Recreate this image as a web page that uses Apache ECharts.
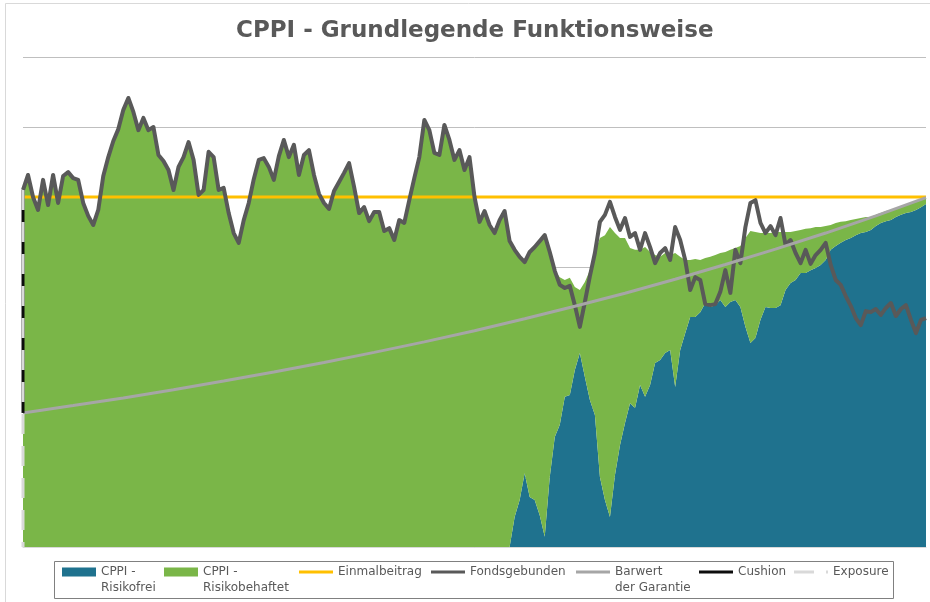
<!DOCTYPE html>
<html><head><meta charset="utf-8">
<script src="https://cdn.jsdelivr.net/npm/echarts@6/dist/echarts.min.js"></script>
<style>html,body{margin:0;padding:0;background:#fff}#c{width:930px;height:602px}</style>
</head><body><div id="c"></div>
<script>
// ---- data ----
const N = 181;
const categories = Array.from({length: N}, (_, i) => i);

const fondsgebunden = [
102.0,106.3,100.0,96.3,104.9,97.7,106.3,98.3,106.0,107.1,
105.4,104.9,98.3,94.6,92.0,96.3,106.0,111.4,116.0,119.4,
124.9,128.3,124.3,119.1,122.6,119.1,120.0,112.0,110.3,107.7,
102.0,108.6,111.4,115.7,110.6,100.6,102.0,112.9,111.4,102.0,
102.6,95.4,89.7,86.9,93.4,98.3,105.1,110.6,111.1,108.6,
104.9,111.7,116.3,111.4,114.9,106.3,112.0,113.4,106.3,100.9,
98.3,96.6,101.7,104.3,106.9,109.7,102.9,95.4,97.1,93.1,
95.7,95.7,90.3,91.1,87.7,93.4,92.6,99.1,105.4,111.4,
122.0,119.1,112.6,112.0,120.6,116.3,110.6,113.4,107.7,111.4,
100.0,92.9,96.0,92.0,89.7,93.4,96.0,87.4,84.9,82.9,
81.4,84.3,85.7,87.4,89.1,84.3,78.9,74.9,74.0,74.6,
69.1,62.9,70.0,77.4,84.0,92.9,94.9,98.6,94.3,90.6,
94.0,88.6,89.7,84.9,89.7,85.7,81.1,84.0,85.4,82.0,
91.4,87.7,82.0,73.4,77.1,76.3,69.4,69.1,69.4,72.9,
79.1,72.6,84.9,81.1,91.4,98.3,99.1,92.6,89.7,91.7,
89.1,94.0,86.3,87.7,84.0,81.1,84.9,80.9,83.4,84.9,
86.9,80.6,76.3,74.9,71.7,68.9,65.4,63.4,67.4,67.1,
68.0,66.3,68.3,69.7,66.0,68.0,69.1,64.9,61.1,64.9,
65.4];

const risikofrei = [
0,0,0,0,0,0,0,0,0,0,
0,0,0,0,0,0,0,0,0,0,
0,0,0,0,0,0,0,0,0,0,
0,0,0,0,0,0,0,0,0,0,
0,0,0,0,0,0,0,0,0,0,
0,0,0,0,0,0,0,0,0,0,
0,0,0,0,0,0,0,0,0,0,
0,0,0,0,0,0,0,0,0,0,
0,0,0,0,0,0,0,0,0,0,
0,0,0,0,0,0,0,0,8.6,13.4,
21.1,14.3,13.4,9.1,2.9,20.0,31.4,34.9,42.9,43.4,
50.6,55.4,48.6,42.0,37.7,20.0,13.4,8.6,20.6,29.1,
35.4,41.1,39.7,46.3,42.9,46.3,52.6,53.4,55.4,56.3,
45.7,56.3,61.1,65.7,65.7,67.1,69.7,68.6,69.1,70.6,
68.6,70.0,70.6,68.6,62.9,58.3,59.7,64.9,68.6,68.3,
68.3,69.1,73.4,75.4,76.3,78.3,78.3,79.1,79.7,80.6,
82.0,84.9,86.0,86.9,87.7,88.3,89.1,89.7,90.0,90.6,
91.7,92.6,93.1,93.4,94.3,94.9,95.4,95.7,96.3,97.1,
98.0];

const risikobehaftet = [
102.0,106.3,100.0,96.3,104.9,97.7,106.3,98.3,106.0,107.1,
105.4,104.9,98.3,94.6,92.0,96.3,106.0,111.4,116.0,119.4,
124.9,128.3,124.3,119.1,122.6,119.1,120.0,112.0,110.3,107.7,
102.0,108.6,111.4,115.7,110.6,100.6,102.0,112.9,111.4,102.0,
102.6,95.4,89.7,86.9,93.4,98.3,105.1,110.6,111.1,108.6,
104.9,111.7,116.3,111.4,114.9,106.3,112.0,113.4,106.3,100.9,
98.3,96.6,101.7,104.3,106.9,109.7,102.9,95.4,97.1,93.1,
95.7,95.7,90.3,91.1,87.7,93.4,92.6,99.1,105.4,111.4,
122.0,119.1,112.6,112.0,120.6,116.3,110.6,113.4,107.7,111.4,
100.0,92.9,96.0,92.0,89.7,93.4,96.0,87.4,76.3,69.5,
60.3,70.0,72.3,78.3,86.2,64.3,47.5,42.2,33.4,33.5,
23.7,18.0,27.1,37.1,46.6,68.3,75.7,82.8,69.1,59.2,
52.9,44.3,45.2,38.6,42.8,38.0,30.8,29.5,28.6,27.1,
38.3,26.6,20.9,16.3,16.6,14.9,12.9,14.3,14.3,13.4,
15.7,14.9,14.8,17.4,25.4,32.0,30.3,24.8,21.1,21.4,
21.7,20.9,16.6,14.6,14.0,12.3,12.6,12.0,11.7,10.8,
9.7,7.1,6.6,6.0,5.4,5.1,4.6,4.3,4.3,3.7,
3.2,2.8,2.9,2.9,2.3,2.2,2.3,2.6,2.3,2.0,
1.7];

const einmalbeitrag = 100;
const barwertIndex = [0,10,20,30,40,50,60,70,80,90,100,110,120,130,140,150,160,170,180];
const barwertGarantie = [38.3,40.4,42.6,44.9,47.4,50.0,52.7,55.6,58.6,61.8,65.2,68.8,72.5,76.5,80.7,85.1,89.7,94.6,99.8];
const cushion = [102.0, 38.3];
const exposure = [102.0, 0];

const yTicks = {min: 0, max: 140, interval: 20};

// ---- names ----
const nRF = 'CPPI -\nRisikofrei';
const nRB = 'CPPI -\nRisikobehaftet';
const nEB = 'Einmalbeitrag';
const nFG = 'Fondsgebunden';
const nBW = 'Barwert\nder Garantie';
const nCU = 'Cushion';
const nEX = 'Exposure';

const font = 'DejaVu Sans';
const txtCol = '#595959';

function lg(name, left, twoLine, icon, h) {
  return {
    data: [{name: name, icon: icon}], left: left, top: twoLine ? 548 : 564, padding: 0,
    itemWidth: 34, itemHeight: h, selectedMode: false,
    formatter: twoLine ? (n => '\n' + n) : (n => n),
    textStyle: {color: txtCol, fontFamily: font, fontSize: 12, lineHeight: 16}
  };
}

const chart = echarts.init(document.getElementById('c'), null, {renderer: 'canvas'});
chart.setOption({
  animation: false,
  backgroundColor: '#ffffff',
  title: {text: 'CPPI - Grundlegende Funktionsweise', left: 231, top: 15,
    textStyle: {color: txtCol, fontFamily: font, fontSize: 23, fontWeight: 'bold'}},
  grid: {left: 23, right: 4, top: 57, bottom: 55, containLabel: false},
  legend: [
    lg(nRF, 62, true, 'rect', 9), lg(nRB, 164, true, 'rect', 9), lg(nEB, 299, false, 'rect', 3),
    lg(nFG, 431, false, 'rect', 3), lg(nBW, 576, true, 'rect', 3), lg(nCU, 699, false, 'rect', 3),
    lg(nEX, 794, false, 'path://M0,0h20v3h-20z M32,0h2v3h-2z', 3)
  ],
  graphic: [
    {type: 'rect', shape: {x: 5.5, y: 3.5, width: 1000, height: 1000}, style: {fill: null, stroke: '#d9d9d9', lineWidth: 1}, z: -10},
    {type: 'rect', shape: {x: 54.5, y: 561.5, width: 839, height: 37}, style: {fill: null, stroke: '#808080', lineWidth: 1}}
  ],
  xAxis: {type: 'category', data: categories, boundaryGap: false,
    axisLine: {lineStyle: {color: '#d9d9d9', width: 1}}, axisTick: {show: false}, axisLabel: {show: false}},
  yAxis: {type: 'value', min: yTicks.min, max: yTicks.max, interval: yTicks.interval,
    axisLine: {show: false}, axisTick: {show: false}, axisLabel: {show: false},
    splitLine: {lineStyle: {color: '#bfbfbf', width: 1}}},
  series: [
    {name: nRF, type: 'line', stack: 'cppi', data: risikofrei, symbol: 'none',
      lineStyle: {width: 0}, itemStyle: {color: '#1f728e'}, areaStyle: {color: '#1f728e', opacity: 1}},
    {name: nRB, type: 'line', stack: 'cppi', data: risikobehaftet, symbol: 'none',
      lineStyle: {width: 0}, itemStyle: {color: '#7ab648'}, areaStyle: {color: '#7ab648', opacity: 1}},
    {name: nEB, type: 'line', data: [[0, einmalbeitrag], [N - 1, einmalbeitrag]], symbol: 'none',
      lineStyle: {color: '#ffc000', width: 3}, itemStyle: {color: '#ffc000'}},
    {name: nFG, type: 'line', data: fondsgebunden, symbol: 'none',
      lineStyle: {color: '#595959', width: 4, join: 'round'}, itemStyle: {color: '#595959'}},
    {name: nBW, type: 'line', data: barwertIndex.map((k, i) => [k, barwertGarantie[i]]), symbol: 'none',
      lineStyle: {color: '#a6a6a6', width: 3}, itemStyle: {color: '#a6a6a6'}},
    {name: nCU, type: 'line', data: cushion.map(v => [0, v]), symbol: 'none', clip: false,
      lineStyle: {color: '#0d0d0d', width: 3}, itemStyle: {color: '#0d0d0d'}},
    {name: nEX, type: 'line', data: exposure.map(v => [0, v]), symbol: 'none', clip: false,
      lineStyle: {color: '#d9d9d9', width: 3, type: [20, 12]}, itemStyle: {color: '#d9d9d9'}}
  ]
});
</script></body></html>
